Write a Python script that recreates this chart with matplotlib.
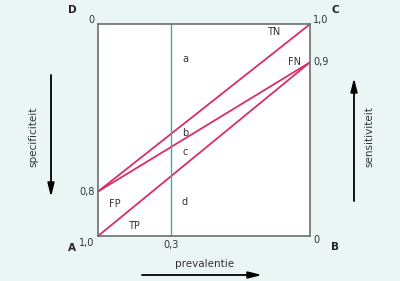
import matplotlib
matplotlib.use("Agg")
import matplotlib.pyplot as plt

# positions (fraction of the box)
x_ends = [0.0, 1.0]
tn_line = [0.21, 1.0]
fn_line = [0.21, 0.82]
tp_line = [0.0, 0.82]
prev_x = 0.345

# tick labels and their positions
left_labels = ["0", "0,8", "1,0"]
left_pos = [1.0, 0.21, 0.0]
right_labels = ["1,0", "0,9", "0"]
right_pos = [1.0, 0.82, 0.0]
bottom_label = "0,3"

region_labels = ["a", "b", "c", "d"]
region_y = [0.835, 0.486, 0.396, 0.16]

bg = "#eaf6f4"
pink = "#d82d6c"
teal = "#45ab9a"

fig = plt.figure(figsize=(4, 2.81), dpi=100, facecolor=bg)
ax = fig.add_axes([0.245, 0.160, 0.53, 0.754])
ax.set_facecolor("white")
ax.set_xlim(0, 1)
ax.set_ylim(0, 1)
ax.set_xticks([])
ax.set_yticks([])
for s in ax.spines.values():
    s.set_color("#6e6e6e")
    s.set_linewidth(1.2)

ax.plot(x_ends, tn_line, color=pink, lw=1.3)
ax.plot(x_ends, fn_line, color=pink, lw=1.3)
ax.plot(x_ends, tp_line, color=pink, lw=1.3)
ax.axvline(prev_x, color=teal, lw=1.0)

fs = 7
for lab, y in zip(region_labels, region_y):
    ax.text(0.41, y, lab, fontsize=fs, ha="center", va="center", color="#333333")
ax.text(0.83, 0.962, "TN", fontsize=fs, ha="center", va="center", color="#333333")
ax.text(0.925, 0.82, "FN", fontsize=fs, ha="center", va="center", color="#333333")
ax.text(0.08, 0.15, "FP", fontsize=fs, ha="center", va="center", color="#333333")
ax.text(0.17, 0.047, "TP", fontsize=fs, ha="center", va="center", color="#333333")

for lab, y in zip(left_labels, left_pos):
    ax.text(-0.015, y + (0.02 if y == 1.0 else 0) - (0.035 if y == 0.0 else 0), lab,
            fontsize=fs, ha="right", va="center", color="#333333", clip_on=False)
for lab, y in zip(right_labels, right_pos):
    ax.text(1.015, y + (0.02 if y == 1.0 else 0) - (0.02 if y == 0.0 else 0), lab,
            fontsize=fs, ha="left", va="center", color="#333333", clip_on=False)
ax.text(prev_x, -0.042, bottom_label, fontsize=fs, ha="center", va="center",
        color="#333333", clip_on=False)

# corner letters
for lab, px, py in [("D", 72, 10), ("C", 335, 10), ("A", 72, 248), ("B", 335, 247)]:
    fig.text(px / 400, 1 - py / 281, lab, fontsize=7.5, fontweight="bold",
             ha="center", va="center", color="#222222")

# axis captions with arrows
fig.text(205 / 400, 1 - 264 / 281, "prevalentie", fontsize=7.5, ha="center",
         va="center", color="#333333")
fig.text(33 / 400, 1 - 137 / 281, "specificiteit", fontsize=7.5, rotation=90,
         ha="center", va="center", color="#333333")
fig.text(369 / 400, 1 - 137 / 281, "sensitiviteit", fontsize=7.5, rotation=90,
         ha="center", va="center", color="#333333")

arrow = dict(arrowstyle="-|>,head_length=0.8,head_width=0.2", color="black", lw=1.3,
             shrinkA=0, shrinkB=0)
ax.annotate("", xy=(262, 281 - 275), xytext=(142, 281 - 275),
            xycoords="figure pixels", textcoords="figure pixels", arrowprops=arrow)
ax.annotate("", xy=(51, 281 - 197), xytext=(51, 281 - 75),
            xycoords="figure pixels", textcoords="figure pixels", arrowprops=arrow)
ax.annotate("", xy=(354, 281 - 78), xytext=(354, 281 - 201),
            xycoords="figure pixels", textcoords="figure pixels", arrowprops=arrow)

fig.savefig("out.png", dpi=100, facecolor=bg)
